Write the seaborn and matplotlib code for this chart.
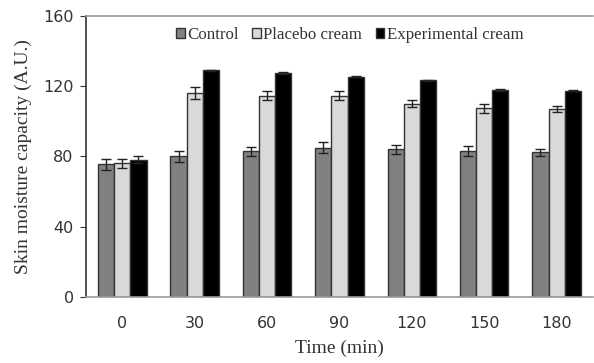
import pandas as pd
import matplotlib
matplotlib.use("Agg")
import matplotlib.pyplot as plt
import seaborn as sns

# Data
times = ["0", "30", "60", "90", "120", "150", "180"]
groups = ["Control", "Placebo cream", "Experimental cream"]
control = [75.5, 80, 83, 85, 84, 83, 82.5]
placebo = [76, 116, 114.5, 114.5, 110, 107.5, 107]
experimental = [78, 129, 127.5, 125.5, 123.5, 118, 117.5]
control_err = [3, 3, 2.5, 3, 2.5, 3, 2]
placebo_err = [2.5, 3.5, 2.5, 2.5, 2, 2.5, 1.5]
experimental_err = [2, 0.5, 0.5, 0.5, 0.3, 0.5, 0.5]

df = pd.DataFrame({
    "Time": times * 3,
    "Group": [g for g in groups for _ in times],
    "Value": control + placebo + experimental,
    "Err": control_err + placebo_err + experimental_err,
})

sns.set_style("white")
palette = {"Control": "#808080", "Placebo cream": "#d9d9d9", "Experimental cream": "#000000"}

fig = plt.figure(figsize=(5.94, 3.63), dpi=100)
ax = fig.add_axes([0.145, 0.182, 0.853, 0.774])

sns.barplot(data=df, x="Time", y="Value", hue="Group", order=times, hue_order=groups,
            palette=palette, width=0.67, edgecolor="#333333", linewidth=1, ax=ax,
            errorbar=None, saturation=1)

# error bars on top of each bar
for cont, g in zip(ax.containers, groups):
    sub = df[df["Group"] == g]
    xs = [b.get_x() + b.get_width() / 2 for b in cont]
    ax.errorbar(xs, sub["Value"].values, yerr=sub["Err"].values, fmt="none",
                ecolor="#222222", elinewidth=1, capsize=3.5, capthick=1)

ax.set_ylim(0, 160)
ax.set_xlim(-0.5, 6.5)
ax.set_yticks([0, 40, 80, 120, 160])
ax.tick_params(axis="y", direction="out", length=4, left=True, color="#333333",
               labelsize=11.5, pad=5)
ax.tick_params(axis="x", length=0, labelsize=11.5, pad=14)
for lab in ax.get_xticklabels() + ax.get_yticklabels():
    lab.set_color("#333333")

ax.set_xlabel("Time (min)", family="Liberation Serif", fontsize=14, color="#333333", labelpad=6)
ax.set_ylabel("Skin moisture capacity (A.U.)", family="Liberation Serif", fontsize=14,
              color="#333333", labelpad=8)

ax.spines["left"].set_color("#333333")
ax.spines["bottom"].set_color("#999999")
ax.spines["top"].set_color("#999999")
ax.spines["right"].set_visible(False)
for s in ax.spines.values():
    s.set_linewidth(1.2)

leg = ax.legend(loc="upper center", bbox_to_anchor=(0.52, 1.015), ncol=3, frameon=False,
                handlelength=0.5, handleheight=0.5, handletextpad=0.15, columnspacing=0.8,
                prop={"family": "Liberation Serif", "size": 12.2})
for t in leg.get_texts():
    t.set_color("#333333")

fig.savefig("out.png", dpi=100)
